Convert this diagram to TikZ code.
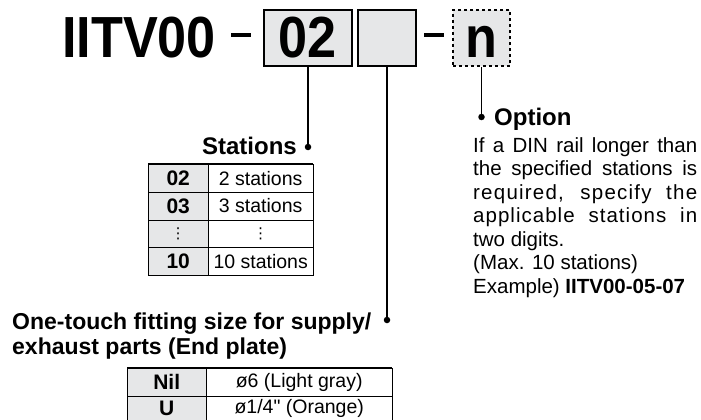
\documentclass[tikz,border=0pt]{standalone}
\usepackage{fontspec}
\setmainfont{Liberation Sans}[Ligatures=TeXOff]
\newfontfamily\symbolfont{DejaVu Sans}
\usepackage{graphicx}
\usetikzlibrary{positioning}
\definecolor{cellgray}{HTML}{E6E7E8}
\newcommand{\bigcode}[1]{\scalebox{0.9}[1]{\fontsize{58}{62}\selectfont\bfseries #1}}
\newcommand{\smalldots}{{\symbolfont\mdseries\fontsize{15}{15}\selectfont ⋮}}

\begin{document}
\begin{tikzpicture}[x=1pt, y=-1pt,
  codebox/.style={draw, line width=1.4pt, fill=cellgray, inner sep=0pt,
    minimum height=56pt, text height=40pt, text depth=0pt},
  bullet/.style={circle, fill, inner sep=0pt, minimum size=6.5pt},
  heading/.style={font=\fontsize{24}{27}\selectfont\bfseries, inner sep=0pt},
  body/.style={font=\fontsize{20.5}{23.5}\selectfont, inner sep=0pt},
  keycell/.style={draw, fill=cellgray, inner sep=0pt, anchor=north west,
    font=\fontsize{21}{22}\selectfont\bfseries},
  valcell/.style={draw, inner sep=0pt, anchor=north west,
    font=\fontsize{19.5}{22}\selectfont},
  link/.style={line width=1.4pt},
]
\useasboundingbox (0,0) rectangle (701,420);
\clip (0,0) rectangle (701,420);

% part number
\node[inner sep=0pt, anchor=base west] (model) at (62,58) {\bigcode{IITV00}};
\node[inner sep=0pt] (dashA) at (241,35) {\rule{20pt}{4pt}};
\node[codebox, minimum width=88pt] (box02) at (308,38) {\bigcode{02}};
\node[codebox, minimum width=58pt] (boxfit) at (387,38) {};
\node[inner sep=0pt] (dashB) at (434,35) {\rule{20pt}{4pt}};
\node[codebox, dashed, minimum width=57pt] (boxopt) at (481.5,38) {\bigcode{n}};

% bullets and leaders
\node[bullet] (dotA) at (308,147) {};
\node[bullet] (dotB) at (387,320) {};
\node[bullet] (dotC) at (481.5,117) {};
\draw[link] (box02.south) -- (dotA);
\draw[link] (boxfit.south) -- (dotB);
\draw[link] (boxopt.south) -- (dotC);

% stations
\node[heading, anchor=base east] (stationslbl) at (297,154) {Stations};
\foreach \k/\v [count=\i] in {02/2 stations, 03/3 stations,
    \smalldots/\smalldots, 10/10 stations} {
  \node[keycell, minimum width=60pt, minimum height=27.75pt]
    (stkey\i) at (148,{164+(\i-1)*27.75}) {\k};
  \node[valcell, minimum width=105pt, minimum height=27.75pt]
    (stval\i) at (208,{164+(\i-1)*27.75}) {\v};
}
\draw[line width=2pt] (stkey1.north west) -- (stval1.north east);

% fitting size
\node[heading, font=\fontsize{23}{25}\selectfont\bfseries, align=left,
  anchor=north west] (fittinglbl) at (12,313)
  {One-touch fitting size for supply/\\exhaust parts (End plate)};
\foreach \k/\v/\h [count=\i] in {Nil/{ø6 (Light gray)}/28, U/{ø1/4" (Orange)}/24} {
  \node[keycell, minimum width=79pt, minimum height=\h pt]
    (fkey\i) at (127,{368+(\i-1)*28}) {\k};
  \node[valcell, minimum width=186pt, minimum height=\h pt]
    (fval\i) at (206,{368+(\i-1)*28}) {\v};
}
\draw[line width=2pt] (fkey1.north west) -- (fval1.north east);

% option
\node[heading, anchor=base west] (optionlbl) at (494,125) {Option};
\node[body, text width=224pt, align=justify, anchor=north west] (optiontext)
  at (473,137) {If a DIN rail longer than\linebreak
  the specified stations is\linebreak
  {\addfontfeature{LetterSpace=6}required, specify the}\linebreak
  {\addfontfeature{LetterSpace=5}applicable stations in}\linebreak
  two digits.\\(Max. 10 stations)\\Example) \textbf{IITV00-05-07}};
\end{tikzpicture}
\end{document}
